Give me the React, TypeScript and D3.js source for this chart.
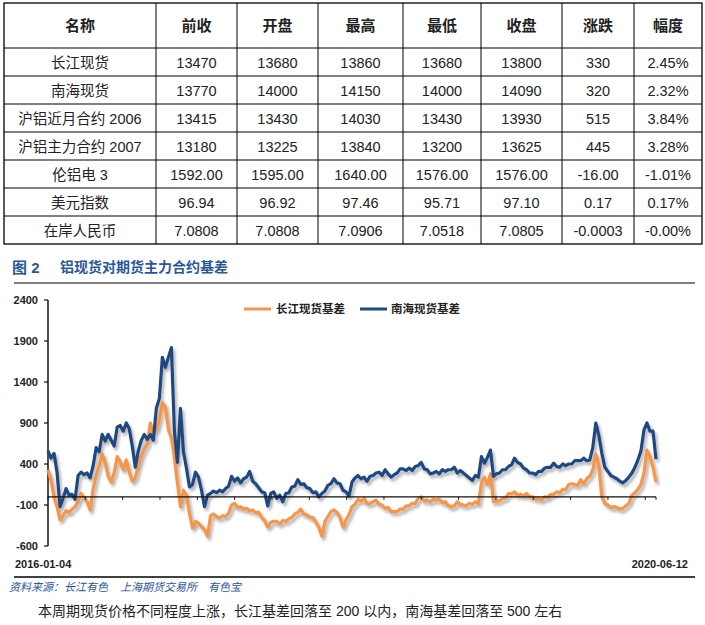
import React from "react";
import * as d3 from "d3";

// ---------- table data ----------
const tableHeaders = ["名称", "前收", "开盘", "最高", "最低", "收盘", "涨跌", "幅度"];
const rowNames = ["长江现货", "南海现货", "沪铝近月合约 2006", "沪铝主力合约 2007", "伦铝电 3", "美元指数", "在岸人民币"];
const prevClose = ["13470", "13770", "13415", "13180", "1592.00", "96.94", "7.0808"];
const openVals = ["13680", "14000", "13430", "13225", "1595.00", "96.92", "7.0808"];
const highVals = ["13860", "14150", "14030", "13840", "1640.00", "97.46", "7.0906"];
const lowVals = ["13680", "14000", "13430", "13200", "1576.00", "95.71", "7.0518"];
const closeVals = ["13800", "14090", "13930", "13625", "1576.00", "97.10", "7.0805"];
const changeVals = ["330", "320", "515", "445", "-16.00", "0.17", "-0.0003"];
const pctVals = ["2.45%", "2.32%", "3.84%", "3.28%", "-1.01%", "0.17%", "-0.00%"];

// ---------- chart data ----------
const figTitleNum = "图 2";
const figTitle = "铝现货对期货主力合约基差";
const seriesNames = ["长江现货基差", "南海现货基差"];
const xLabels = ["2016-01-04", "2020-06-12"];
const yTicks = [-600, -100, 400, 900, 1400, 1900, 2400];
const sourceItems = ["资料来源：长江有色", "上海期货交易所", "有色宝"];
const note = "本周期现货价格不同程度上涨，长江基差回落至 200 以内，南海基差回落至 500 左右";
const TOTAL_DAYS = 1075;

const changjiang = [
  330, 200, 0, -120, -280, -230, -170, -190, -150, -120,
  -60, 40, -10, -60, -160, 100, 260, 380, 520, 420,
  250, 180, 300, 490, 420, 330, 450, 300, 190, 230,
  380, 500, 580, 650, 900, 780, 820, 940, 1150, 1100,
  820, 720, 480, 170, -120, 80, 20, -200, -380, -300,
  -320, -360, -400, -480, -230, -210, -240, -260, -230, -240,
  -200, -100, -80, -130, -120, -150, -140, -170, -160, -190,
  -190, -250, -290, -370, -310, -300, -300, -330, -290, -300,
  -270, -250, -210, -190, -150, -210, -220, -250, -250, -310,
  -370, -480, -300, -240, -180, -160, -190, -250, -370, -280,
  -220, -120, -90, -30, -50, -20, -80, -80, -60, -40,
  -90, -100, -140, -130, -180, -180, -180, -150, -150, -110,
  -110, -80, -80, -20, 0, -50, -40, -60, -30, -40,
  -30, -70, -60, -110, -120, -110, -60, -90, -100, -110,
  -80, -90, -60, -80, 170, 240, 150, 280, -60, -50,
  -50, -20, -20, 40, 35, 60, 20, 30, 10, 40,
  0, 0, -30, -20, -40, 0, -10, 30, 30, 60,
  50, 90, 90, 150, 160, 150, 140, 210, 160, 220,
  250, 330, 520, 380, 0, -80, -100, -130, -120, -130,
  -150, -140, -110, -80, 20, 50, 90, 150, 290, 570,
  490, 360, 180,
];

const nanhai = [
  560, 470, 530, 300, -120, -20, 100, 20, 30, -30,
  260, 300, 270, 290, 230, 380, 600, 550, 760, 680,
  760, 690, 620, 850, 870, 800, 900, 830, 620, 360,
  560, 690, 760, 700, 760, 690, 1080, 1200, 1700, 1580,
  1700, 1820, 800, 420, 1080, 550, 350, 120, 150, 300,
  240, 80, -120, 20, 40, 70, 50, 80, 60, 100,
  130, 250, 190, 230, 170, 220, 240, 310, 190, 160,
  110, 60, 50, -110, 40, 60, -20, 20, -60, 40,
  50, 120, 130, 210, 150, 160, 110, 100, 50, 60,
  0, 40, 70, 140, 160, 220, 170, 160, 80, 60,
  10, 180, 230, 260, 220, 240, 190, 250, 260, 290,
  300, 260, 330, 280, 240, 270, 290, 340, 340, 320,
  350, 320, 370, 380, 420, 340, 330, 280, 290, 310,
  280, 330, 310, 330, 330, 360, 290, 320, 290, 260,
  230, 200, 260, 240, 490, 410, 480, 570, 250, 280,
  290, 330, 330, 370, 390, 470, 420, 400, 350, 330,
  290, 290, 270, 310, 310, 350, 360, 360, 410, 370,
  360, 400, 380, 400, 400, 440, 440, 440, 470, 440,
  450, 600, 900, 750, 530, 360, 310, 260, 240, 220,
  190, 170, 200, 240, 290, 360, 450, 560, 815, 900,
  800, 800, 460,
];

const ORANGE = "#F79646";
const BLUE = "#1F4A84";
const TITLE_BLUE = "#2B579A";
const FONT = "'Liberation Sans', Arial, 'Noto Sans CJK SC', sans-serif";

const colBounds = [4, 156, 237, 318, 403, 481, 562, 634, 702];
const tableTop = 3;
const headerH = 45;
const rowH = 28;

export default function App() {
  const x = d3.scaleLinear().domain([0, TOTAL_DAYS]).range([48, 656]);
  const y = d3.scaleLinear().domain([-600, 2400]).range([546, 300]);
  const n = changjiang.length;
  const day = (i: number) => (i * TOTAL_DAYS) / (n - 1);
  const line = d3
    .line<number>()
    .x((_, i) => x(day(i)))
    .y((v) => y(v));
  const xTickVals = d3.range(0, TOTAL_DAYS, 66).concat([TOTAL_DAYS]);

  const columns = [rowNames, prevClose, openVals, highVals, lowVals, closeVals, changeVals, pctVals];
  const tableBottom = tableTop + headerH + rowH * rowNames.length;
  const sourceX = [9, 120, 208];

  return (
    <svg
      width={705}
      height={625}
      style={{ position: "absolute", left: 0, top: 0, background: "#fff" }}
      fontFamily={FONT}
    >
      <defs>
        <filter id="shadow" x="-5%" y="-5%" width="110%" height="115%">
          <feDropShadow dx="2" dy="3" stdDeviation="1.5" floodColor="#7a7a7a" floodOpacity="0.6" />
        </filter>
      </defs>
      <rect x={0} y={0} width={705} height={625} fill="#fff" />

      {/* ---------- table ---------- */}
      <g>
        {rowNames.map((_, r) => (
          <line
            key={"h" + r}
            x1={colBounds[0]}
            x2={colBounds[colBounds.length - 1]}
            y1={tableTop + headerH + rowH * r}
            y2={tableTop + headerH + rowH * r}
            stroke="#000"
            strokeWidth={1}
          />
        ))}
        {colBounds.slice(1, -1).map((cx, c) => (
          <line key={"v" + c} x1={cx} x2={cx} y1={tableTop} y2={tableBottom} stroke="#000" strokeWidth={1} />
        ))}
        <rect
          x={colBounds[0]}
          y={tableTop}
          width={colBounds[colBounds.length - 1] - colBounds[0]}
          height={tableBottom - tableTop}
          fill="none"
          stroke="#000"
          strokeWidth={1.3}
        />
        {tableHeaders.map((h, c) => (
          <text
            key={"th" + c}
            x={(colBounds[c] + colBounds[c + 1]) / 2}
            y={tableTop + headerH / 2}
            textAnchor="middle"
            dominantBaseline="central"
            fontSize={15}
            fontWeight="bold"
            fill="#222"
          >
            {h}
          </text>
        ))}
        {columns.map((col, c) =>
          col.map((v, r) => (
            <text
              key={"td" + c + "-" + r}
              x={(colBounds[c] + colBounds[c + 1]) / 2}
              y={tableTop + headerH + rowH * r + rowH / 2 + 1}
              textAnchor="middle"
              dominantBaseline="central"
              fontSize={14.5}
              fill="#222"
            >
              {v}
            </text>
          ))
        )}
      </g>

      {/* ---------- figure title ---------- */}
      <text x={12} y={267} dominantBaseline="central" fontSize={15} fontWeight="bold" fill={TITLE_BLUE}>
        {figTitleNum}
      </text>
      <text x={60} y={267} dominantBaseline="central" fontSize={14} fontWeight="bold" fill={TITLE_BLUE}>
        {figTitle}
      </text>
      <line x1={14} x2={695} y1={283} y2={283} stroke="#000" strokeWidth={1} />

      {/* ---------- legend ---------- */}
      <line x1={244} x2={271} y1={309} y2={309} stroke={ORANGE} strokeWidth={3} />
      <text x={276} y={309} dominantBaseline="central" fontSize={11.5} fontWeight="bold" fill="#222">
        {seriesNames[0]}
      </text>
      <line x1={360} x2={387} y1={309} y2={309} stroke={BLUE} strokeWidth={3} />
      <text x={391} y={309} dominantBaseline="central" fontSize={11.5} fontWeight="bold" fill="#222">
        {seriesNames[1]}
      </text>

      {/* ---------- y axis ---------- */}
      <line x1={48} x2={48} y1={y(2400)} y2={y(-600)} stroke="#111" strokeWidth={1.5} />
      {yTicks.map((t) => (
        <g key={"yt" + t}>
          <line x1={44} x2={48} y1={y(t)} y2={y(t)} stroke="#111" strokeWidth={1.2} />
          <text x={38} y={y(t)} textAnchor="end" dominantBaseline="central" fontSize={11} fontWeight="bold" fill="#222">
            {t}
          </text>
        </g>
      ))}

      {/* ---------- series ---------- */}
      <g filter="url(#shadow)">
        <path d={line(changjiang) || ""} fill="none" stroke={ORANGE} strokeWidth={3.2} strokeLinejoin="round" />
        <path d={line(nanhai) || ""} fill="none" stroke={BLUE} strokeWidth={3.2} strokeLinejoin="round" />
      </g>

      {/* ---------- x axis (at zero) ---------- */}
      <line x1={x(0)} x2={x(TOTAL_DAYS)} y1={y(0)} y2={y(0)} stroke="#111" strokeWidth={1.3} />
      {xTickVals.map((t, i) => (
        <line key={"xt" + i} x1={x(t)} x2={x(t)} y1={y(0)} y2={y(0) + 3} stroke="#111" strokeWidth={1} />
      ))}
      <text x={15} y={564} dominantBaseline="central" fontSize={11} fontWeight="bold" fill="#222">
        {xLabels[0]}
      </text>
      <text x={688} y={564} textAnchor="end" dominantBaseline="central" fontSize={11} fontWeight="bold" fill="#222">
        {xLabels[1]}
      </text>

      {/* ---------- source / note ---------- */}
      <line x1={14} x2={695} y1={577} y2={577} stroke="#000" strokeWidth={1.5} />
      {sourceItems.map((s, i) => (
        <text key={"src" + i} x={sourceX[i]} y={587} dominantBaseline="central" fontSize={11} fontStyle="italic" fill={TITLE_BLUE}>
          {s}
        </text>
      ))}
      <text x={38} y={611} dominantBaseline="central" fontSize={14} fill="#222">
        {note}
      </text>
    </svg>
  );
}
